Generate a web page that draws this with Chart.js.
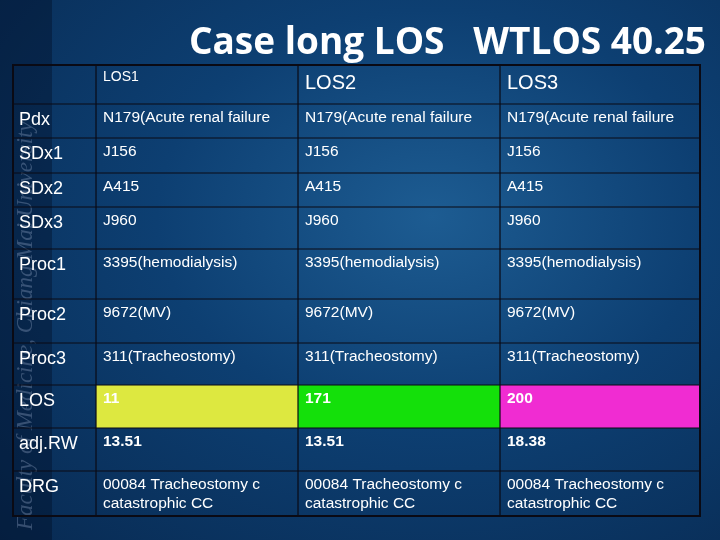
<!DOCTYPE html>
<html>
<head>
<meta charset="utf-8">
<script src="https://cdn.jsdelivr.net/npm/chart.js@4"></script>
<style>
  html, body { margin: 0; padding: 0; }
  body { width: 720px; height: 540px; background: radial-gradient(ellipse at 60% 40%, #1d5c92 0%, #0d3f72 45%, #082a52 100%); }
  #wrap { position: relative; width: 720px; height: 540px; }
</style>
</head>
<body>
<div id="wrap"><canvas id="tbl" width="720" height="540"></canvas></div>
<script>
// table content
var title = 'Case long LOS   WTLOS 40.25';
var columns = ['', 'LOS1', 'LOS2', 'LOS3'];
var rowLabels = ['Pdx', 'SDx1', 'SDx2', 'SDx3', 'Proc1', 'Proc2', 'Proc3', 'LOS', 'adj.RW', 'DRG'];
var los1 = ['N179(Acute renal failure', 'J156', 'A415', 'J960', '3395(hemodialysis)', '9672(MV)', '311(Tracheostomy)', '11', '13.51', '00084 Tracheostomy c\ncatastrophic CC'];
var los2 = ['N179(Acute renal failure', 'J156', 'A415', 'J960', '3395(hemodialysis)', '9672(MV)', '311(Tracheostomy)', '171', '13.51', '00084 Tracheostomy c\ncatastrophic CC'];
var los3 = ['N179(Acute renal failure', 'J156', 'A415', 'J960', '3395(hemodialysis)', '9672(MV)', '311(Tracheostomy)', '200', '18.38', '00084 Tracheostomy c\ncatastrophic CC'];

// layout (pixels)
var colEdges = [13, 96, 298, 500, 700];
var rowEdges = [65, 104, 138, 173, 207, 249, 299, 343, 385, 428, 471, 516];
var losFill = ['#dde840', '#14e00a', '#f02cd2'];

var tablePlugin = {
  id: 'tablePlugin',
  beforeDraw: function(chart) {
    var ctx = chart.ctx;
    ctx.save();
    // left strip
    ctx.fillStyle = 'rgba(0,10,30,0.35)';
    ctx.fillRect(0, 0, 52, 540);
    // watermark text
    ctx.translate(32, 530);
    ctx.rotate(-Math.PI / 2);
    ctx.font = 'italic 23px "Liberation Serif"';
    ctx.fillStyle = 'rgba(150,170,200,0.35)';
    ctx.fillText('Faculty of Medicine, Chiang Mai University', 0, 0);
    ctx.restore();
  },
  afterDraw: function(chart) {
    var ctx = chart.ctx;
    ctx.save();
    ctx.fillStyle = '#ffffff';
    ctx.font = 'bold 37px "Open Sans"';
    ctx.textBaseline = 'alphabetic';
    ctx.textAlign = 'right';
    ctx.fillText(title, 706, 54);
    ctx.textAlign = 'left';

    // coloured LOS cells
    var losRow = rowLabels.indexOf('LOS');
    for (var c = 0; c < 3; c++) {
      ctx.fillStyle = losFill[c];
      ctx.fillRect(colEdges[c + 1], rowEdges[losRow + 1], colEdges[c + 2] - colEdges[c + 1], rowEdges[losRow + 2] - rowEdges[losRow + 1]);
    }

    // grid
    ctx.strokeStyle = '#0a0a14';
    ctx.lineWidth = 1.2;
    rowEdges.forEach(function(y) {
      ctx.beginPath(); ctx.moveTo(colEdges[0], y); ctx.lineTo(colEdges[4], y); ctx.stroke();
    });
    colEdges.forEach(function(x) {
      ctx.beginPath(); ctx.moveTo(x, rowEdges[0]); ctx.lineTo(x, rowEdges[rowEdges.length - 1]); ctx.stroke();
    });
    ctx.lineWidth = 2;
    ctx.strokeRect(colEdges[0], rowEdges[0], colEdges[4] - colEdges[0], rowEdges[rowEdges.length - 1] - rowEdges[0]);

    // header
    ctx.fillStyle = '#ffffff';
    ctx.textBaseline = 'top';
    ctx.font = '14px "Liberation Sans"';
    ctx.fillText(columns[1], colEdges[1] + 7, rowEdges[0] + 5);
    ctx.font = '20px "Liberation Sans"';
    ctx.fillText(columns[2], colEdges[2] + 7, rowEdges[0] + 8);
    ctx.fillText(columns[3], colEdges[3] + 7, rowEdges[0] + 8);

    // body
    var series = [los1, los2, los3];
    for (var r = 0; r < rowLabels.length; r++) {
      var top = rowEdges[r + 1];
      ctx.font = '18px "Liberation Sans"';
      ctx.fillStyle = '#ffffff';
      ctx.fillText(rowLabels[r], colEdges[0] + 6, top + 7);
      var bold = (rowLabels[r] === 'LOS' || rowLabels[r] === 'adj.RW');
      ctx.font = (bold ? 'bold ' : '') + '15.5px "Liberation Sans"';
      for (var c2 = 0; c2 < 3; c2++) {
        var lines = series[c2][r].split('\n');
        for (var k = 0; k < lines.length; k++) {
          ctx.fillText(lines[k], colEdges[c2 + 1] + 7, top + 6 + k * 19);
        }
      }
    }
    ctx.restore();
  }
};

var ctx = document.getElementById('tbl').getContext('2d');
var myTable = new Chart(ctx, {
  type: 'bar',
  data: { labels: columns.slice(1), datasets: [{ data: [], backgroundColor: 'transparent' }] },
  options: {
    responsive: false,
    animation: false,
    plugins: { legend: { display: false }, tooltip: { enabled: false } },
    scales: { x: { display: false }, y: { display: false } }
  },
  plugins: [tablePlugin]
});
</script>
</body>
</html>
